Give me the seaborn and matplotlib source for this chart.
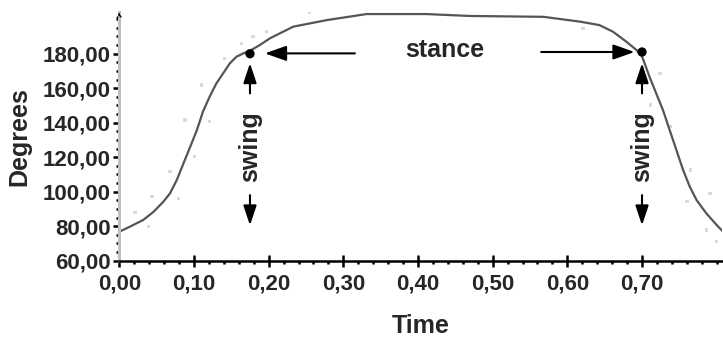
import numpy as np
import pandas as pd
import matplotlib
matplotlib.use("Agg")
import matplotlib.pyplot as plt
from matplotlib.ticker import FuncFormatter, MultipleLocator
import seaborn as sns

# ---- data ----
curve_time = [0.000, 0.014, 0.032, 0.046, 0.059, 0.068, 0.077, 0.086, 0.095, 0.104,
              0.112, 0.121, 0.130, 0.139, 0.148, 0.157, 0.166, 0.175, 0.188, 0.202,
              0.233, 0.278, 0.331, 0.411, 0.469, 0.568, 0.617, 0.643, 0.661, 0.679,
              0.693, 0.700, 0.710, 0.719, 0.728, 0.737, 0.746, 0.755, 0.764, 0.773,
              0.786, 0.800, 0.807]
curve_deg = [76.8, 79.7, 83.6, 88.4, 94.2, 99.1, 106.8, 116.5, 126.1, 135.8,
             146.4, 155.1, 162.8, 168.6, 174.4, 178.3, 180.2, 181.7, 185.0, 189.0,
             195.7, 199.5, 203.0, 203.0, 201.9, 201.4, 198.6, 196.6, 192.8, 187.0,
             182.0, 178.5, 166.7, 157.0, 147.4, 135.8, 124.2, 112.6, 102.9, 95.2,
             87.5, 80.7, 77.5]

raw_time = [0.021, 0.039, 0.044, 0.068, 0.079, 0.088, 0.101, 0.110, 0.121, 0.141,
            0.164, 0.179, 0.197, 0.255, 0.327, 0.621, 0.711, 0.724, 0.738, 0.760,
            0.765, 0.786, 0.791, 0.800]
raw_deg = [87.8, 79.7, 97.1, 111.6, 96.2, 141.6, 120.3, 161.9, 140.6, 177.3,
           186.0, 189.9, 192.8, 204.3, 206.0, 194.7, 150.3, 168.6, 137.7, 94.2,
           112.6, 77.8, 99.0, 71.0]

event_time = [0.175, 0.700]
event_deg = [180.0, 181.0]

x_ticks = [0.0, 0.1, 0.2, 0.3, 0.4, 0.5, 0.6, 0.7]
y_ticks = [60, 80, 100, 120, 140, 160, 180]

curve_df = pd.DataFrame({"Time": curve_time, "Degrees": curve_deg})
raw_df = pd.DataFrame({"Time": raw_time, "Degrees": raw_deg})
event_df = pd.DataFrame({"Time": event_time, "Degrees": event_deg})

sns.set_style("white")
plt.rcParams["font.family"] = ["Liberation Sans", "DejaVu Sans"]

fig = plt.figure(figsize=(7.23, 3.37), dpi=100)
ax = fig.add_axes([0.165, 0.2264, 0.8335, 0.737])

sns.scatterplot(data=raw_df, x="Time", y="Degrees", ax=ax, color="#d9d9d9",
                marker="s", s=6, edgecolor="none", zorder=1)
sns.lineplot(data=curve_df, x="Time", y="Degrees", ax=ax, color="#555555",
             linewidth=1.6, zorder=2, sort=True, estimator=None)
sns.scatterplot(data=event_df, x="Time", y="Degrees", ax=ax, color="black",
                s=45, edgecolor="none", zorder=4)

ax.set_xlim(0, 0.807)
ax.set_ylim(60, 204)

ax.set_xticks(x_ticks)
ax.set_yticks(y_ticks)
ax.xaxis.set_minor_locator(MultipleLocator(0.02))
ax.yaxis.set_minor_locator(MultipleLocator(5))
fmt = FuncFormatter(lambda v, p: f"{v:.2f}".replace(".", ","))
ax.xaxis.set_major_formatter(fmt)
ax.yaxis.set_major_formatter(fmt)

for s in ["top", "right"]:
    ax.spines[s].set_visible(False)
ax.spines["bottom"].set_color("black")
ax.spines["bottom"].set_linewidth(1.8)
ax.spines["left"].set_color("#c0c0c0")
ax.spines["left"].set_linewidth(2.2)

ax.tick_params(axis="x", which="major", direction="inout", length=8, width=1.8,
               color="black", pad=5, labelsize=16)
ax.tick_params(axis="x", which="minor", direction="out", length=2.5, width=1.8,
               color="black")
ax.tick_params(axis="y", which="major", direction="out", length=4, width=1.8,
               color="black", pad=2, labelsize=16)
ax.tick_params(axis="y", which="minor", direction="out", length=2, width=1.8,
               color="black")
ax.tick_params(axis="x", which="both", bottom=True)
ax.tick_params(axis="y", which="both", left=True)
for lab in ax.get_xticklabels() + ax.get_yticklabels():
    lab.set_fontweight("bold")

ax.set_xlabel("Time", fontsize=18, fontweight="bold", labelpad=14.5)
ax.set_ylabel("Degrees", fontsize=18, fontweight="bold", labelpad=8)
ax.grid(False)

# small arrow at top of y axis
ax.annotate("", xy=(0, 1.012), xytext=(0, 0.975), xycoords="axes fraction",
            arrowprops=dict(arrowstyle="->", color="black", lw=1.0,
                            linestyle=":", mutation_scale=8))

# annotations
big = dict(arrowstyle="-|>,head_length=13,head_width=4.6", color="black",
           lw=1.5, mutation_scale=1, shrinkA=0, shrinkB=0)
ax.annotate("", xy=(0.195, 180.2), xytext=(0.3155, 180.2), arrowprops=big)
ax.annotate("", xy=(0.690, 181.0), xytext=(0.565, 181.0), arrowprops=big)
ax.text(0.436, 182.0, "stance", fontsize=18, fontweight="bold",
        ha="center", va="center")

small = dict(arrowstyle="-|>,head_length=12,head_width=4.0", color="black",
             lw=1.5, mutation_scale=1, shrinkA=0, shrinkB=0)
for t in event_time:
    ax.annotate("", xy=(t, 174.5), xytext=(t, 157.0), arrowprops=small)
    ax.annotate("", xy=(t, 80.5), xytext=(t, 98.0), arrowprops=small)
    ax.text(t, 126.0, "swing", fontsize=18, fontweight="bold", rotation=90,
            ha="center", va="center")

fig.savefig("out.png", dpi=100)
